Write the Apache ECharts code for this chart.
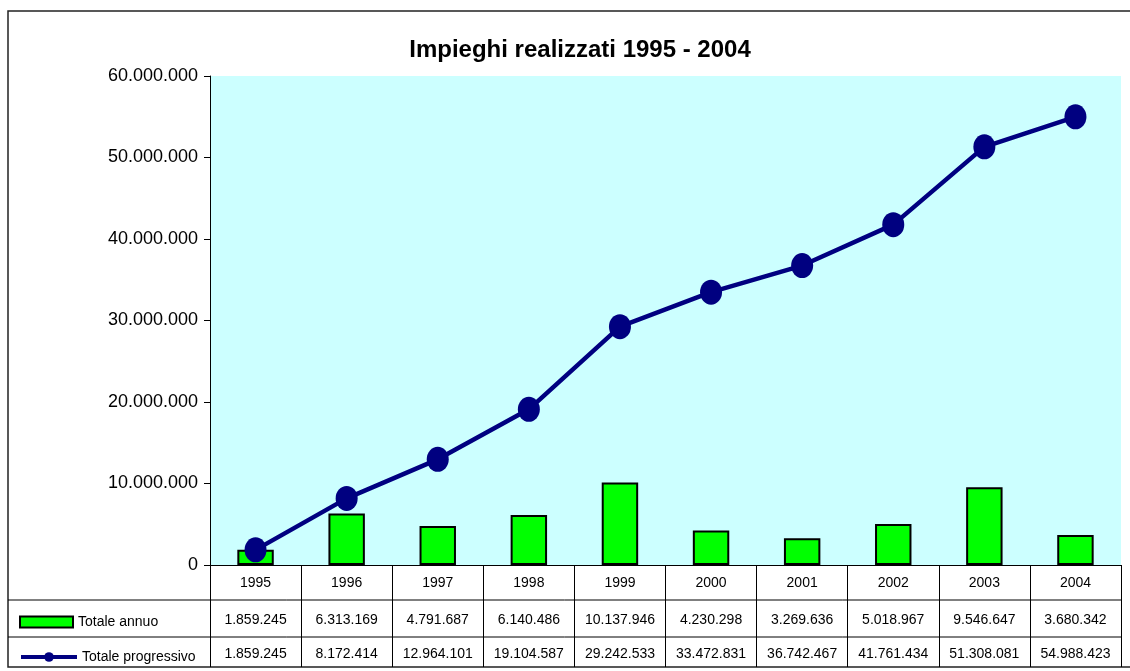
<!DOCTYPE html>
<html>
<head>
	<meta charset="utf-8">
	<title>Impieghi realizzati 1995 - 2004</title>
	<style>
		html, body, #chart {
			margin: 0;
			padding: 0;
			width: 1130px;
			height: 671px;
			background: #fff;
		}
	</style>
	<script src="https://cdn.jsdelivr.net/npm/echarts@6/dist/echarts.min.js"></script>
</head>
<body>
<div id="chart"></div>
<script>

var years = ['1995', '1996', '1997', '1998', '1999', '2000', '2001', '2002', '2003', '2004'];
var totaleAnnuo = [1859245, 6313169, 4791687, 6140486, 10137946, 4230298, 3269636, 5018967, 9546647, 3680342];
var totaleProgressivo = [1859245, 8172414, 12964101, 19104587, 29242533, 33472831, 36742467, 41761434, 51308081, 54988423];

function fmt (v) {
	return String(v).replace(/\B(?=(\d{3})+(?!\d))/g, '.');
}

var chart = echarts.init(document.getElementById('chart'));
var font = 'Arial, "Liberation Sans", sans-serif';
var legendText = { fontSize: 14, color: '#000', fontFamily: font };

chart.setOption({
	animation: false,
	textStyle: { fontFamily: font },
	title: {
		text: 'Impieghi realizzati 1995 - 2004',
		left: 575,
		top: 33,
		textAlign: 'center',
		textStyle: { fontSize: 24, fontWeight: 'bold', color: '#000', fontFamily: font }
	},
	legend: [{
		data: [{ name: 'Totale annuo', icon: 'rect' }],
		left: 14,
		top: 610,
		itemWidth: 53,
		itemHeight: 11,
		textStyle: legendText
	}, {
		data: ['Totale progressivo'],
		left: 14,
		top: 645,
		itemWidth: 56,
		itemHeight: 12,
		lineStyle: { width: 4, color: '#000080' },
		textStyle: legendText
	}],
	grid: {
		left: 210,
		top: 76,
		right: 9,
		bottom: 106,
		show: true,
		backgroundColor: '#CCFFFF',
		borderWidth: 0
	},
	xAxis: [{
		type: 'category',
		data: years,
		position: 'bottom',
		axisLine: { lineStyle: { color: '#000', width: 1 } },
		axisTick: { show: true, alignWithLabel: false, interval: 0, length: 102, lineStyle: { color: '#000', width: 1 } },
		axisLabel: { margin: 11, fontSize: 14, color: '#000', fontFamily: font }
	}, {
		type: 'category',
		data: totaleAnnuo.map(fmt),
		position: 'bottom',
		offset: 35,
		axisLine: { show: false },
		axisTick: { show: false },
		axisLabel: { margin: 13, interval: 0, fontSize: 14, color: '#000', fontFamily: font }
	}, {
		type: 'category',
		data: totaleProgressivo.map(fmt),
		position: 'bottom',
		offset: 72,
		axisLine: { show: false },
		axisTick: { show: false },
		axisLabel: { margin: 10, interval: 0, fontSize: 14, color: '#000', fontFamily: font }
	}],
	yAxis: {
		type: 'value',
		min: 0,
		max: 60000000,
		interval: 10000000,
		axisLine: { show: true, lineStyle: { color: '#000', width: 1 } },
		axisTick: { show: true, length: 6, lineStyle: { color: '#000' } },
		splitLine: { show: false },
		axisLabel: {
			margin: 12,
			fontSize: 18,
			color: '#000',
			fontFamily: font,
			formatter: function (v) { return fmt(v); }
		}
	},
	series: [{
		name: 'Totale annuo',
		type: 'bar',
		data: totaleAnnuo,
		barWidth: '40%',
		itemStyle: { color: '#00FF00', borderColor: '#000', borderWidth: 2 },
		z: 2
	}, {
		name: 'Totale progressivo',
		type: 'line',
		data: totaleProgressivo,
		symbol: 'circle',
		symbolSize: [22, 25],
		lineStyle: { color: '#000080', width: 4.5 },
		itemStyle: { color: '#000080' },
		z: 3
	}],
	graphic: [{
		type: 'rect',
		shape: { x: 8, y: 11, width: 1130, height: 656 },
		style: { fill: 'none', stroke: '#222', lineWidth: 1.5 },
		silent: true
	}, {
		type: 'line',
		shape: { x1: 8, y1: 600, x2: 1121, y2: 600 },
		style: { stroke: '#000', lineWidth: 1 },
		silent: true
	}, {
		type: 'line',
		shape: { x1: 8, y1: 637, x2: 1121, y2: 637 },
		style: { stroke: '#000', lineWidth: 1 },
		silent: true
	}]
});

</script>
</body>
</html>
